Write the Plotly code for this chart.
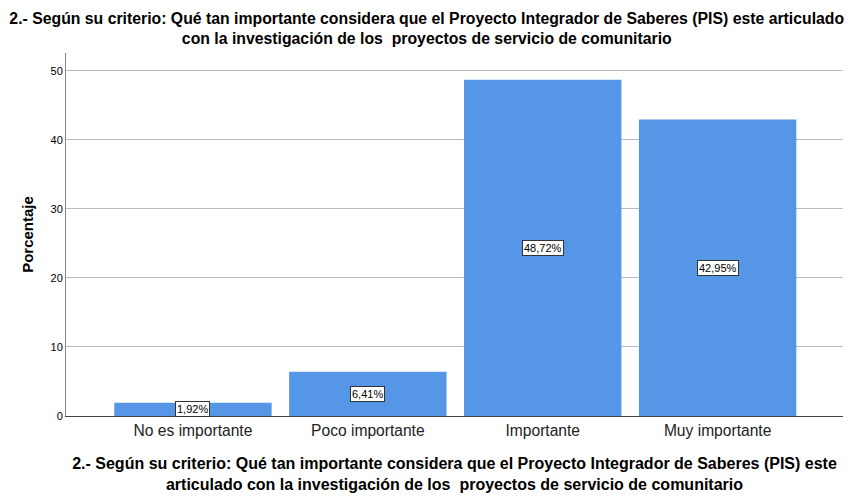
import plotly.graph_objects as go

categorias = ['No es importante', 'Poco importante', 'Importante', 'Muy importante']
porcentajes = [1.92, 6.41, 48.72, 42.95]
etiquetas = ['1,92%', '6,41%', '48,72%', '42,95%']

titulo = ('2.- Según su criterio: Qué tan importante considera que el Proyecto Integrador de Saberes (PIS) este articulado'
          '<br>con la investigación de los  proyectos de servicio de comunitario')
titulo_x = ('2.- Según su criterio: Qué tan importante considera que el Proyecto Integrador de Saberes (PIS) este'
            '<br>articulado con la investigación de los  proyectos de servicio de comunitario')

x_idx = list(range(len(categorias)))

fig = go.Figure(go.Bar(
    x=x_idx, y=porcentajes, width=0.9,
    marker=dict(color='#5596E6', line=dict(width=0)),
    hoverinfo='skip'
))

# etiquetas en caja blanca a media altura de cada barra
for xi, v, t in zip(x_idx, porcentajes, etiquetas):
    fig.add_annotation(x=xi, y=v / 2, text=t, showarrow=False,
                       font=dict(family='Arial', size=11, color='black'),
                       bgcolor='white', bordercolor='#333333', borderwidth=1, borderpad=1)

# la página tiene 8px de margen en el body, se descuenta del tamaño
fig.update_layout(
    width=846, height=496,
    margin=dict(l=58, r=11, t=45, b=88),
    plot_bgcolor='white', paper_bgcolor='white',
    showlegend=False,
    font=dict(family='Arial', color='black'),
    title=dict(text=titulo, x=0.495, xanchor='center', y=0.9685, yanchor='top',
               font=dict(family='Arial', size=15.8, color='black', weight='bold')),
)

fig.update_xaxes(
    range=[-0.726, 3.717], automargin=False,
    tickmode='array', tickvals=x_idx, ticktext=categorias,
    tickfont=dict(family='Arial', size=15.6, color='#222222'),
    ticks='', showgrid=False, zeroline=False,
    showline=True, linecolor='#444444', linewidth=1,
    title=dict(text=titulo_x, standoff=20,
               font=dict(family='Arial', size=16, color='black', weight='bold')),
)

fig.update_yaxes(
    range=[0, 52.6], automargin=False,
    tickvals=[0, 10, 20, 30, 40, 50],
    tickfont=dict(family='Arial', size=11, color='black'),
    ticks='',
    showgrid=True, gridcolor='#BBBBBB', gridwidth=1, zeroline=False,
    showline=True, linecolor='#888888', linewidth=1,
    title=dict(text='Porcentaje', standoff=13,
               font=dict(family='Arial', size=15, color='black', weight='bold')),
)

fig.write_html('out.html')
